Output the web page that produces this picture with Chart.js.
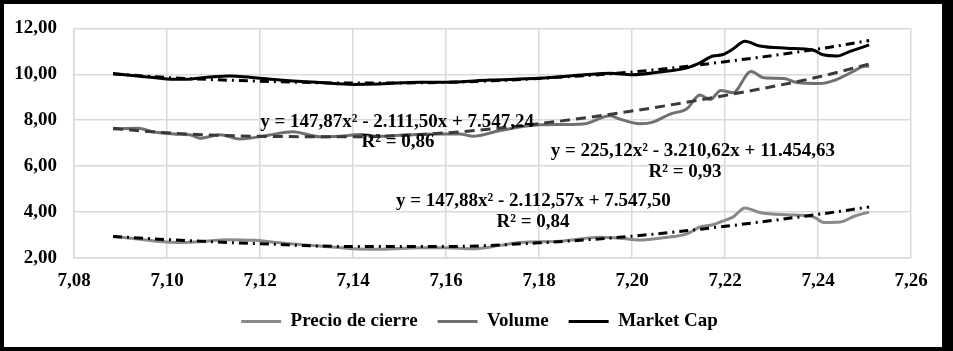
<!DOCTYPE html>
<html>
<head>
<meta charset="utf-8">
<script src="https://cdn.jsdelivr.net/npm/chart.js@4"></script>
<style>
  html, body { margin: 0; padding: 0; background: #fff; }
  #wrap { position: relative; width: 953px; height: 351px; }
  #frame {
    position: absolute; left: 0; top: 0; width: 953px; height: 351px;
    box-sizing: border-box; border-style: solid; border-color: #000;
    border-width: 4px 11px 4px 4px; pointer-events: none;
  }
</style>
</head>
<body>
<div id="wrap">
  <canvas id="chart" width="953" height="351"></canvas>
  <div id="frame"></div>
</div>
<script>
// series (x = log value on horizontal axis)
const precioX = [7.0884, 7.0942, 7.1000, 7.1039, 7.1135, 7.1189, 7.1243, 7.1329, 7.1400, 7.1458, 7.1544, 7.1600, 7.1658, 7.1716, 7.1759, 7.1845, 7.1931, 7.1974, 7.2017, 7.2067, 7.2118, 7.2146, 7.2174, 7.2194, 7.2217, 7.2243, 7.2275, 7.2333, 7.2389, 7.2413, 7.2448, 7.2478, 7.2510];
const precioY = [2.94, 2.82, 2.70, 2.68, 2.80, 2.77, 2.66, 2.52, 2.40, 2.38, 2.45, 2.45, 2.40, 2.55, 2.68, 2.73, 2.90, 2.86, 2.78, 2.88, 3.05, 3.35, 3.45, 3.60, 3.78, 4.18, 3.98, 3.88, 3.80, 3.55, 3.57, 3.82, 4.00];

const volumeX = [7.0884, 7.0937, 7.0970, 7.1015, 7.1053, 7.1071, 7.1114, 7.1157, 7.1221, 7.1270, 7.1329, 7.1372, 7.1415, 7.1458, 7.1501, 7.1587, 7.1630, 7.1658, 7.1716, 7.1802, 7.1895, 7.1953, 7.1974, 7.2017, 7.2045, 7.2082, 7.2118, 7.2146, 7.2168, 7.2191, 7.2217, 7.2256, 7.2284, 7.2327, 7.2355, 7.2402, 7.2437, 7.2478, 7.2499, 7.2510];
const volumeY = [7.62, 7.65, 7.50, 7.40, 7.35, 7.22, 7.37, 7.18, 7.36, 7.50, 7.28, 7.30, 7.38, 7.30, 7.35, 7.40, 7.40, 7.30, 7.55, 7.80, 7.84, 8.20, 8.05, 7.85, 7.92, 8.27, 8.50, 9.10, 8.90, 9.30, 9.20, 10.12, 9.85, 9.82, 9.64, 9.60, 9.75, 10.15, 10.35, 10.35];

const mcapX = [7.0884, 7.0942, 7.1000, 7.1039, 7.1092, 7.1135, 7.1189, 7.1243, 7.1329, 7.1400, 7.1458, 7.1544, 7.1600, 7.1695, 7.1800, 7.1899, 7.1953, 7.2000, 7.2060, 7.2118, 7.2146, 7.2174, 7.2194, 7.2217, 7.2243, 7.2275, 7.2333, 7.2389, 7.2411, 7.2441, 7.2469, 7.2510];
const mcapY = [10.02, 9.92, 9.80, 9.78, 9.88, 9.93, 9.85, 9.75, 9.64, 9.56, 9.58, 9.66, 9.66, 9.75, 9.83, 9.98, 10.05, 9.98, 10.10, 10.28, 10.50, 10.80, 10.85, 11.10, 11.44, 11.23, 11.14, 11.06, 10.85, 10.80, 11.00, 11.28];

// polynomial trendlines
const trendX = [7.0884, 7.10, 7.12, 7.14, 7.16, 7.18, 7.20, 7.22, 7.24, 7.251];
const precioTrend = [2.94, 2.80, 2.62, 2.50, 2.50, 2.66, 2.95, 3.38, 3.90, 4.22];
const volumeTrend = [7.65, 7.45, 7.30, 7.28, 7.45, 7.85, 8.40, 9.08, 9.88, 10.45];
const mcapTrend = [10.02, 9.86, 9.70, 9.62, 9.65, 9.82, 10.10, 10.55, 11.10, 11.47];

// axis ticks
const xMin = 7.08, xMax = 7.26, xStep = 0.02;
const yMin = 2, yMax = 12, yStep = 2;

// trendline equations (label centres in data units)
const eqText = ['y = 147,87x² - 2.111,50x + 7.547,24', 'y = 225,12x² - 3.210,62x + 11.454,63', 'y = 147,88x² - 2.112,57x + 7.547,50'];
const eqX = [7.1495, 7.2131, 7.1788];
const eqY = [7.92, 6.64, 4.49];
const r2Text = ['R² = 0,86', 'R² = 0,93', 'R² = 0,84'];
const r2X = [7.1497, 7.2114, 7.1787];
const r2Y = [7.06, 5.73, 3.55];

const pts = (xs, ys) => xs.map((x, i) => ({ x: x, y: ys[i] }));
const fmt = v => v.toFixed(2).replace('.', ',');
const serif = '"Liberation Serif", "Times New Roman", serif';

const eqLabels = {
  id: 'eqLabels',
  afterDatasetsDraw(chart) {
    const ctx = chart.ctx;
    const xs = chart.scales.x, ys = chart.scales.y;
    ctx.save();
    ctx.fillStyle = '#000';
    ctx.font = 'bold 19px ' + serif;
    ctx.textAlign = 'center';
    ctx.textBaseline = 'middle';
    eqText.forEach((t, i) => {
      ctx.fillText(t, xs.getPixelForValue(eqX[i]), ys.getPixelForValue(eqY[i]));
      ctx.fillText(r2Text[i], xs.getPixelForValue(r2X[i]), ys.getPixelForValue(r2Y[i]));
    });
    ctx.restore();
  }
};

// centre the legend under the plot area rather than the whole canvas
const legendShift = {
  id: 'legendShift',
  afterLayout(chart) {
    if (chart.legend) chart.legend.left += 48;
  }
};

const lineDs = (label, data, color) => ({
  label, data, borderColor: color, backgroundColor: color, borderWidth: 3,
  pointRadius: 0, cubicInterpolationMode: 'monotone', fill: false, order: 1
});
const trendDs = (label, data, color, dash) => ({
  label, data, borderColor: color, backgroundColor: color, borderWidth: 3,
  borderDash: dash, pointRadius: 0, cubicInterpolationMode: 'monotone', fill: false, order: 0, trend: true
});

new Chart(document.getElementById('chart'), {
  type: 'line',
  data: {
    datasets: [
      lineDs('Precio de cierre', pts(precioX, precioY), '#8a8a8a'),
      lineDs('Volume', pts(volumeX, volumeY), '#6d7369'),
      lineDs('Market Cap', pts(mcapX, mcapY), '#000000'),
      trendDs('trend precio', pts(trendX, precioTrend), '#000000', [9, 5, 2, 5]),
      trendDs('trend volume', pts(trendX, volumeTrend), '#3a3a3a', [10, 6]),
      trendDs('trend mcap', pts(trendX, mcapTrend), '#000000', [9, 5, 2, 5])
    ]
  },
  options: {
    responsive: false,
    animation: false,
    layout: { padding: { top: 25, right: 42, left: 0, bottom: 10 } },
    plugins: {
      tooltip: { enabled: false },
      legend: {
        position: 'bottom',
        labels: {
          color: '#000',
          font: { family: serif, size: 19, weight: 'bold' },
          usePointStyle: true,
          pointStyle: 'line',
          pointStyleWidth: 40,
          padding: 20,
          filter: (item, data) => !data.datasets[item.datasetIndex].trend
        }
      }
    },
    scales: {
      x: {
        type: 'linear',
        min: xMin, max: xMax,
        afterFit: s => { s.height = 34; },
        grid: { color: '#d9d9d9', lineWidth: 1.5, drawTicks: false },
        border: { color: '#d9d9d9', width: 1.5 },
        ticks: {
          stepSize: xStep, padding: 12, color: '#000',
          font: { family: serif, size: 19, weight: 'bold' },
          callback: v => fmt(v)
        }
      },
      y: {
        min: yMin, max: yMax,
        afterFit: s => { s.width = 74; },
        grid: { color: '#d9d9d9', lineWidth: 1.5, drawTicks: false },
        border: { color: '#d9d9d9', width: 1.5 },
        ticks: {
          stepSize: yStep, padding: 17, color: '#000',
          font: { family: serif, size: 19, weight: 'bold' },
          callback: v => fmt(v)
        }
      }
    }
  },
  plugins: [eqLabels, legendShift]
});
</script>
</body>
</html>
